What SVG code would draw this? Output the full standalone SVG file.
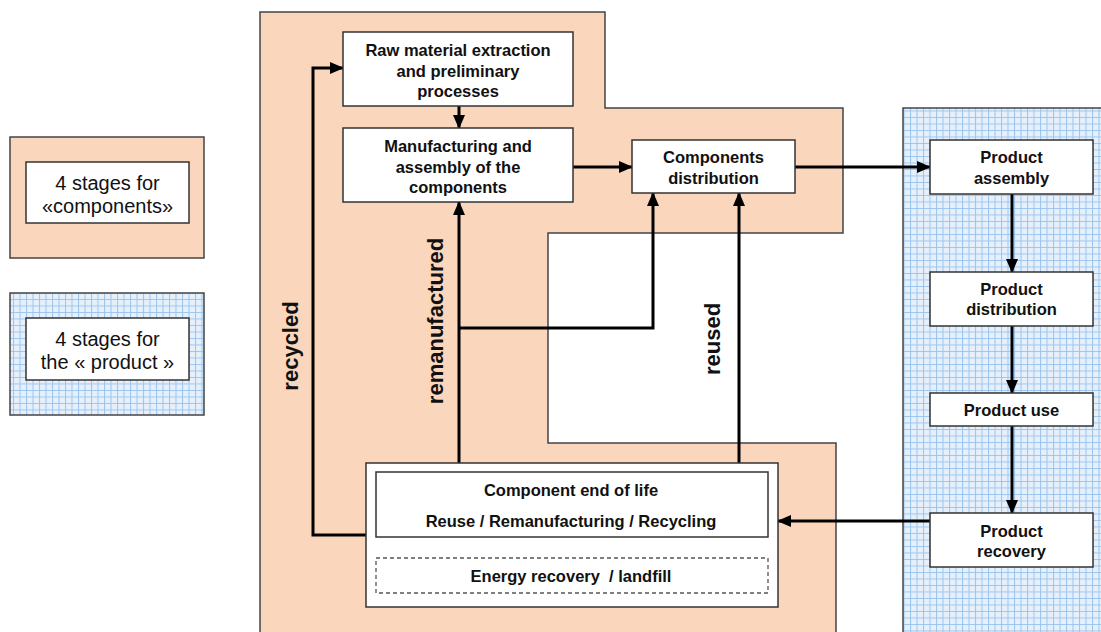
<svg xmlns="http://www.w3.org/2000/svg" width="1101" height="632" viewBox="0 0 1101 632">
<style>
text{font-family:"Liberation Sans",Arial,sans-serif;fill:#111}
.n{font-size:16.5px;font-weight:bold;text-anchor:middle}
.lg{font-size:20px;text-anchor:middle}
.lb{font-size:22px;font-weight:bold;text-anchor:middle}
.box{fill:#fff;stroke:#333;stroke-width:1.5}
.reg{stroke:#444;stroke-width:1.5}
.c{fill:none;stroke:#000;stroke-width:3}
</style>
<defs>
<pattern id="grid" width="6.5" height="6.5" patternUnits="userSpaceOnUse">
<rect width="6.5" height="6.5" fill="#e6f0fb"/>
<path d="M0 0.5H6.5M0.5 0V6.5" stroke="#9cc5ee" stroke-width="1"/>
</pattern>
<marker id="ah" markerUnits="userSpaceOnUse" markerWidth="14" markerHeight="14" viewBox="0 0 14 14" refX="13" refY="7" orient="auto">
<path d="M0,1 L14,7 L0,13 z" fill="#000"/>
</marker>
</defs>
<rect width="1101" height="632" fill="#fff"/>

<g id="legend-components">
<rect x="10" y="137" width="194" height="121" fill="#fad6bd" class="reg"/>
<rect x="26" y="162" width="163" height="61" class="box"/>
<text class="lg" x="107.5" y="190">4 stages for</text>
<text class="lg" x="107.5" y="213">«components»</text>
</g>
<g id="legend-product">
<rect x="10" y="293" width="194" height="122" fill="url(#grid)" class="reg"/>
<rect x="26" y="318" width="163" height="62" class="box"/>
<text class="lg" x="107.5" y="346">4 stages for</text>
<text class="lg" x="107.5" y="369">the « product »</text>
</g>

<g id="region-components">
<path d="M260,12 H605 V108 H843 V233 H548 V443 H836 V640 H260 Z" fill="#fad6bd" class="reg"/>
</g>
<g id="region-product">
<rect x="903" y="108" width="210" height="540" fill="url(#grid)" class="reg"/>
</g>

<g id="connectors">
<path class="c" d="M459,106 V128" marker-end="url(#ah)"/>
<path class="c" d="M573,167 H632" marker-end="url(#ah)"/>
<path class="c" d="M795,167 H930" marker-end="url(#ah)"/>
<path class="c" d="M1012,194 V272" marker-end="url(#ah)"/>
<path class="c" d="M1012,326 V393" marker-end="url(#ah)"/>
<path class="c" d="M1012,426 V513" marker-end="url(#ah)"/>
<path class="c" d="M930,521 H778" marker-end="url(#ah)"/>
<path class="c" d="M366,535 H313 V68 H343" marker-end="url(#ah)"/>
<path class="c" d="M459,472 V202" marker-end="url(#ah)"/>
<path class="c" d="M459,328 H653 V193" marker-end="url(#ah)"/>
<path class="c" d="M739,472 V193" marker-end="url(#ah)"/>
</g>

<g id="labels">
<text class="lb" transform="translate(298,346) rotate(-90)">recycled</text>
<text class="lb" transform="translate(443,321) rotate(-90)">remanufactured</text>
<text class="lb" transform="translate(720,339) rotate(-90)">reused</text>
</g>

<g id="raw-material">
<rect x="343" y="32" width="230" height="74" class="box"/>
<text class="n" x="458" y="56">Raw material extraction</text>
<text class="n" x="458" y="77">and preliminary</text>
<text class="n" x="458" y="97">processes</text>
</g>
<g id="manufacturing">
<rect x="343" y="128" width="230" height="74" class="box"/>
<text class="n" x="458" y="152">Manufacturing and</text>
<text class="n" x="458" y="173">assembly of the</text>
<text class="n" x="458" y="193">components</text>
</g>
<g id="components-distribution">
<rect x="632" y="140" width="163" height="53" class="box"/>
<text class="n" x="713.5" y="163">Components</text>
<text class="n" x="713.5" y="184">distribution</text>
</g>
<g id="product-assembly">
<rect x="930" y="140" width="163" height="54" class="box"/>
<text class="n" x="1011.5" y="163">Product</text>
<text class="n" x="1011.5" y="184">assembly</text>
</g>
<g id="product-distribution">
<rect x="930" y="272" width="163" height="54" class="box"/>
<text class="n" x="1011.5" y="295">Product</text>
<text class="n" x="1011.5" y="315">distribution</text>
</g>
<g id="product-use">
<rect x="930" y="393" width="163" height="33" class="box"/>
<text class="n" x="1011.5" y="416">Product use</text>
</g>
<g id="product-recovery">
<rect x="930" y="513" width="163" height="54" class="box"/>
<text class="n" x="1011.5" y="537">Product</text>
<text class="n" x="1011.5" y="557">recovery</text>
</g>
<g id="component-end-of-life">
<rect x="366" y="463" width="412" height="144" class="box"/>
<rect x="376" y="472" width="392" height="65" class="box"/>
<text class="n" x="571" y="496">Component end of life</text>
<text class="n" x="571" y="527">Reuse / Remanufacturing / Recycling</text>
<rect x="376" y="558" width="392" height="35" fill="#fff" stroke="#555" stroke-width="1.3" stroke-dasharray="4,3"/>
<text class="n" x="571" y="582" style="white-space:pre">Energy recovery  / landfill</text>
</g>
</svg>
